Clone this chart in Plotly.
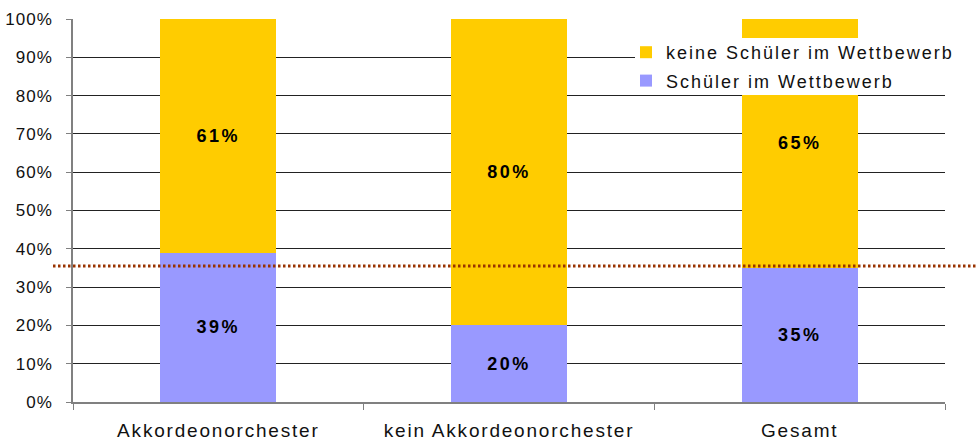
import plotly.graph_objects as go

categories = ["Akkordeonorchester", "kein Akkordeonorchester", "Gesamt"]
schueler = [39, 20, 35]
keine_schueler = [61, 80, 65]
reference_level = 35.5
y_ticks = [0, 10, 20, 30, 40, 50, 60, 70, 80, 90, 100]
y_tick_labels = [f"{v}%" for v in y_ticks]

FONT = "Liberation Sans, Arial, sans-serif"
W, H = 977, 441
ML, MR, MT, MB = 73, 32, 19, 39


def spaced(s, ls):
    return f'<span style="letter-spacing:{ls}px">{s}</span>'


fig = go.Figure()
fig.add_trace(go.Bar(
    x=categories, y=schueler, name=spaced("Schüler im Wettbewerb", 2),
    legendgroup="a", legendrank=2,
    marker=dict(color="#9999FF", line=dict(width=0)),
    text=[spaced(f"{v}%", 2.5) for v in schueler], textposition="inside",
    insidetextanchor="middle",
    textfont=dict(family=FONT, size=18, color="black", weight="bold"),
    width=0.40,
))
fig.add_trace(go.Bar(
    x=categories, y=keine_schueler, name=spaced("keine Schüler im Wettbewerb", 2),
    legendgroup="b", legendrank=1,
    marker=dict(color="#FFCC00", line=dict(width=0)),
    text=[spaced(f"{v}%", 2.5) for v in keine_schueler], textposition="inside",
    insidetextanchor="middle",
    textfont=dict(family=FONT, size=18, color="black", weight="bold"),
    width=0.40,
))

pw = W - ML - MR
ph = H - MT - MB
# white box behind legend
fig.add_shape(type="rect", xref="paper", yref="paper",
              x0=(635 - ML) / pw, x1=(W - ML) / pw, y0=(H - MB - 95) / ph, y1=(H - MB - 38) / ph,
              fillcolor="white", line=dict(width=0), layer="above")
# dotted reference line
fig.add_shape(type="line", xref="paper", yref="y",
              x0=(53 - ML) / pw, x1=(W - ML) / pw, y0=reference_level, y1=reference_level,
              line=dict(color="#993300", width=3, dash="2.5px,2.5px"), layer="above")

fig.update_layout(
    width=W, height=H,
    margin=dict(l=ML, r=MR, t=MT, b=MB, autoexpand=False),
    barmode="stack",
    plot_bgcolor="white", paper_bgcolor="white",
    font=dict(family=FONT, size=17, color="#111"),
    showlegend=True,
    legend=dict(x=(626 - ML) / pw, y=(H - MB - 34) / ph, xanchor="left", yanchor="top",
                bgcolor="rgba(0,0,0,0)", traceorder="grouped",
                font=dict(family=FONT, size=18, color="#111"), tracegroupgap=2),
    xaxis=dict(type="category", tickson="boundaries", ticks="outside", ticklen=6,
               tickcolor="#808080", showline=True, linecolor="#808080", linewidth=1.5,
               showgrid=False, tickfont=dict(size=19), range=[-0.5, 2.5],
               ticktext=[spaced(c, 1.8) for c in categories], tickvals=categories,
               ticklabelstandoff=10, automargin=False),
    yaxis=dict(range=[0, 100], tickvals=y_ticks,
               ticktext=[spaced(t, 1) for t in y_tick_labels], ticks="outside",
               ticklen=5, tickcolor="#808080", showline=True, linecolor="#808080",
               linewidth=1.5, showgrid=True, gridcolor="#222", gridwidth=1,
               zeroline=False, tickfont=dict(size=17), ticklabelstandoff=10,
               automargin=False),
)

fig.write_html("out.html", config={"displayModeBar": False},
               post_script="document.body.style.margin='0';")
